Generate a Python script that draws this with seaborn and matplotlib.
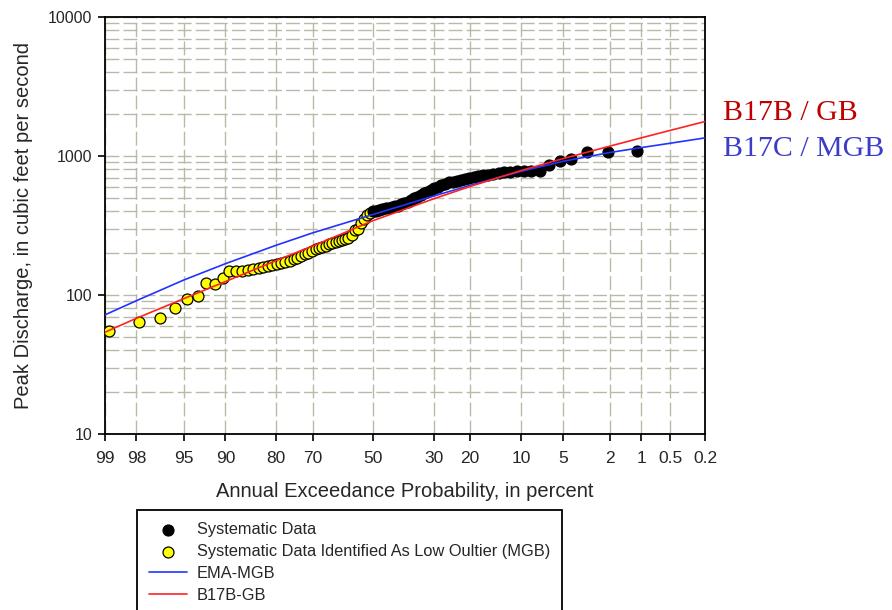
import matplotlib
matplotlib.use("Agg")
import matplotlib.pyplot as plt
import matplotlib.ticker as mticker
import numpy as np
import pandas as pd
import seaborn as sns
from statistics import NormalDist

# annual exceedance probability (percent) and peak discharge (cfs)
# low outliers identified by MGB test
low_aep = [98.9, 97.9, 96.8, 95.7, 94.7, 93.6, 92.6, 91.5, 90.4, 89.4,
           88.3, 87.2, 86.2, 85.1, 84.0, 83.0, 81.9, 80.9, 79.8, 78.7,
           77.7, 76.6, 75.5, 74.5, 73.4, 72.3, 71.3, 70.2, 69.1, 68.1,
           67.0, 66.0, 64.9, 63.8, 62.8, 61.7, 60.6, 59.6, 58.5, 57.4,
           56.4, 55.3, 54.3, 53.2, 52.1, 51.1]
low_q = [55, 64, 68, 81, 93, 98, 121, 120, 132, 148,
         148, 150, 152, 155, 157, 160, 162, 165, 167, 170,
         173, 177, 181, 186, 190, 196, 201, 208, 213, 217,
         222, 226, 231, 237, 241, 243, 247, 252, 258, 272,
         293, 297, 330, 350, 375, 392]

# remaining systematic record
sys_aep = [50.0, 48.9, 47.9, 46.8, 45.7, 44.7, 43.6, 42.6, 41.5, 40.4,
           39.4, 38.3, 37.2, 36.2, 35.1, 34.0, 33.0, 31.9, 30.9, 29.8,
           28.7, 27.7, 26.6, 25.5, 24.5, 23.4, 22.3, 21.3, 20.2, 19.1,
           18.1, 17.0, 16.0, 14.9, 13.8, 12.8, 11.7, 10.6, 9.6, 8.5,
           7.4, 6.4, 5.3, 4.3, 3.2, 2.1, 1.1]
sys_q = [400, 405, 410, 415, 420, 425, 430, 435, 440, 450,
         460, 470, 480, 495, 510, 525, 540, 555, 570, 585,
         600, 615, 630, 645, 655, 665, 675, 685, 695, 705,
         715, 725, 735, 745, 755, 765, 770, 775, 780, 785,
         780, 860, 925, 945, 1075, 1075, 1090]

# fitted frequency curves
curve_aep = [99, 98, 95, 90, 80, 70, 50, 30, 20, 10, 5, 2, 1, 0.5, 0.2]
ema_mgb_q = [72, 91, 128, 168, 228, 280, 380, 515, 615, 775, 915, 1060, 1150, 1235, 1350]
b17b_gb_q = [54, 68, 94, 125, 177, 225, 343, 492, 604, 786, 957, 1178, 1351, 1528, 1770]

x_ticks = [99, 98, 95, 90, 80, 70, 50, 30, 20, 10, 5, 2, 1, 0.5, 0.2]
x_ticklabels = ["99", "98", "95", "90", "80", "70", "50", "30", "20", "10",
                "5", "2", "1", "0.5", "0.2"]
y_ticks = [10, 100, 1000, 10000]

sns.set_style("white")
plt.rcParams["font.family"] = ["Liberation Sans", "DejaVu Sans"]

nd = NormalDist()


def to_z(p):
    p = np.clip(np.asarray(p, dtype=float), 1e-6, 100 - 1e-6)
    return np.vectorize(lambda v: nd.inv_cdf(v / 100.0), otypes=[float])(p)


def from_z(z):
    z = np.asarray(z, dtype=float)
    return np.vectorize(lambda v: 100.0 * nd.cdf(v), otypes=[float])(z)


low_df = pd.DataFrame({"aep": low_aep, "q": low_q})
sys_df = pd.DataFrame({"aep": sys_aep, "q": sys_q})
curve_df = pd.DataFrame({"aep": curve_aep, "ema": ema_mgb_q, "b17b": b17b_gb_q})

fig = plt.figure(figsize=(8.92, 6.10), dpi=100)
ax = fig.add_axes([105 / 892, 176 / 610, 600 / 892, 417 / 610])

grid_kw = dict(color="#b9b9aa", linewidth=1.0, linestyle=(0, (10, 3)))

sns.scatterplot(data=low_df, x="aep", y="q", ax=ax, s=62, color="#ffff00",
                edgecolor="black", linewidth=0.9, zorder=3,
                label="Systematic Data Identified As Low Oultier (MGB)")
sns.scatterplot(data=sys_df, x="aep", y="q", ax=ax, s=62, color="black",
                edgecolor="black", linewidth=0.9, zorder=3,
                label="Systematic Data")
sns.lineplot(data=curve_df, x="aep", y="ema", ax=ax, color="#2233ff",
             linewidth=1.2, sort=False, estimator=None, zorder=4, label="EMA-MGB")
sns.lineplot(data=curve_df, x="aep", y="b17b", ax=ax, color="#ff2222",
             linewidth=1.2, sort=False, estimator=None, zorder=4, label="B17B-GB")

ax.set_xscale("function", functions=(to_z, from_z))
ax.set_yscale("log")
ax.set_xlim(99, 0.2)
ax.set_ylim(10, 10000)

ax.xaxis.set_major_locator(mticker.FixedLocator(x_ticks))
ax.xaxis.set_major_formatter(mticker.FixedFormatter(x_ticklabels))
ax.xaxis.set_minor_locator(mticker.NullLocator())
ax.yaxis.set_major_locator(mticker.FixedLocator(y_ticks))
ax.yaxis.set_major_formatter(mticker.FuncFormatter(lambda v, _: f"{int(v)}"))
ax.yaxis.set_minor_locator(mticker.LogLocator(base=10, subs=np.arange(2, 10)))
ax.yaxis.set_minor_formatter(mticker.NullFormatter())

ax.grid(True, which="major", axis="x", **grid_kw)
ax.grid(True, which="both", axis="y", **grid_kw)
ax.set_axisbelow(True)

ax.tick_params(axis="both", which="major", direction="out", length=5, width=1.2,
               color="black", bottom=True, left=True)
ax.tick_params(axis="y", which="major", labelsize=11.5, pad=4)
ax.tick_params(axis="x", which="major", labelsize=12.5, pad=7)
ax.tick_params(axis="y", which="minor", length=0)
for sp in ax.spines.values():
    sp.set_color("black")
    sp.set_linewidth(1.3)

ax.set_xlabel("Annual Exceedance Probability, in percent", fontsize=14.5, labelpad=12)
ax.set_ylabel("Peak Discharge, in cubic feet per second", fontsize=14.5, labelpad=11)

handles, labels = ax.get_legend_handles_labels()
order = [1, 0, 2, 3]
ax.get_legend().remove()
fig.legend([handles[i] for i in order], [labels[i] for i in order],
           loc="upper left", bbox_to_anchor=(137 / 892, 1 - 510 / 610),
           borderaxespad=0, frameon=True, fancybox=False, framealpha=1,
           edgecolor="black", fontsize=11.8, handlelength=2.3, handletextpad=0.6,
           labelspacing=0.42, borderpad=0.75)
fig.legends[0].get_frame().set_linewidth(1.3)

fig.text(723 / 892, 1 - 120 / 610, "B17B / GB", fontsize=21.5,
         family=["Liberation Serif", "DejaVu Serif"], color="#c00000", va="baseline")
fig.text(723 / 892, 1 - 156 / 610, "B17C / MGB", fontsize=21.5,
         family=["Liberation Serif", "DejaVu Serif"], color="#3c3cc8", va="baseline")

fig.savefig("out.png", dpi=100)
